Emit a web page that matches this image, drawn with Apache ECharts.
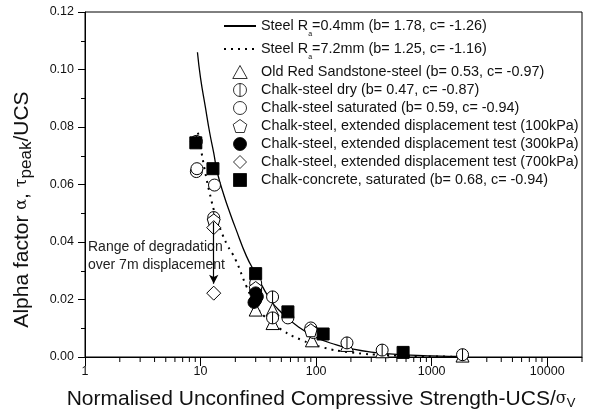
<!DOCTYPE html>
<html>
<head>
<meta charset="utf-8">
<script src="https://cdn.jsdelivr.net/npm/echarts@6/dist/echarts.min.js"></script>
<style>
  html, body { margin: 0; padding: 0; background: #fff; }
  #chart { width: 591px; height: 415px; }
</style>
</head>
<body>
<div id="chart"></div>
<script>
// fitted curves
var steel04X = [9.4, 10, 11, 12, 13, 14, 16, 18, 20, 25, 30, 40, 50, 70, 100, 150, 200, 300, 500, 1000, 2000];
var steel04Y = [0.106, 0.097, 0.087, 0.078, 0.071, 0.064, 0.056, 0.050, 0.045, 0.035, 0.029, 0.020, 0.0155, 0.0105, 0.0068, 0.0042, 0.0029, 0.0017, 0.0009, 0.0004, 0.0002];
var steel72X = [9.5, 10, 11, 12, 13.5, 15, 17, 20, 25, 30, 36, 50, 75, 110, 200, 400, 1000, 2000];
var steel72Y = [0.078, 0.073, 0.064, 0.057, 0.049, 0.044, 0.039, 0.034, 0.0245, 0.018, 0.014, 0.0095, 0.0059, 0.0035, 0.0016, 0.0007, 0.0002, 0.0001];

// measured points [UCS/sigma_v, alpha]
var oldRedSandstone = [[30, 0.0165], [42, 0.0118], [42, 0.0165], [92, 0.0058], [185, 0.0042], [373, 0.0020], [1850, 0.0005]];
var chalkDry = [[9.2, 0.075], [13, 0.0485], [30, 0.023], [42, 0.0136], [42, 0.0209], [185, 0.0049], [373, 0.0024], [1850, 0.0008]];
var chalkSaturated = [[9.2, 0.0645], [9.3, 0.0655], [13.2, 0.0598], [30, 0.0257], [57, 0.0136], [90, 0.0101], [95, 0.0085]];
var ext100 = [[13, 0.0475], [30, 0.024], [90, 0.0093]];
var ext300 = [[30, 0.0223], [30, 0.0198], [31, 0.021], [29, 0.019]];
var ext700 = [[13, 0.045], [13, 0.0222]];
var chalkConcrete = [[9.1, 0.0745], [12.8, 0.0655], [30, 0.029], [57, 0.0157], [115, 0.0080], [566, 0.0016]];

var minorTickPositions = [];
[1, 10, 100, 1000, 10000].forEach(function (d) {
  for (var k = 2; k <= 9; k++) { if (d * k <= 20000) minorTickPositions.push([d * k, 0]); }
});

var xLabels = ['1', '10', '100', '1000', '10000'];

function pairs(xs, ys) { return xs.map(function (x, i) { return [x, ys[i]]; }); }

var names = [
  'Steel Ra=0.4mm (b= 1.78, c= -1.26)',
  'Steel Ra=7.2mm (b= 1.25, c= -1.16)',
  'Old Red Sandstone-steel (b= 0.53, c= -0.97)',
  'Chalk-steel dry (b= 0.47, c= -0.87)',
  'Chalk-steel saturated (b= 0.59, c= -0.94)',
  'Chalk-steel, extended displacement test (100kPa)',
  'Chalk-steel, extended displacement test (300kPa)',
  'Chalk-steel, extended displacement test (700kPa)',
  'Chalk-concrete, saturated (b= 0.68, c= -0.94)'
];

var openStyle = { color: '#fff', borderColor: '#000', borderWidth: 1, opacity: 1 };
var filledStyle = { color: '#000', borderColor: '#000', borderWidth: 1, opacity: 1 };
var triangle = 'path://M0,-10L10,8L-10,8Z';
var circleLine = 'path://M0,-10A10,10 0 1,1 0,10A10,10 0 1,1 0,-10ZM0,-10L0,10';
var circle = 'path://M0,-10A10,10 0 1,1 0,10A10,10 0 1,1 0,-10Z';
var pentagon = 'path://M0,-10L9.5,-3.1L5.9,8.1L-5.9,8.1L-9.5,-3.1Z';
var diamond = 'path://M0,-10L10,0L0,10L-10,0Z';
var square = 'path://M-10,-10L10,-10L10,10L-10,10Z';
var symbols = [null, null, triangle, circleLine, circle, pentagon, circle, diamond, square];
var filled = [false, false, false, false, false, false, true, false, true];

function scatter(i, data, style, size) {
  return { name: names[i], type: 'scatter', data: data, symbol: symbols[i], symbolSize: size,
           itemStyle: style, z: 3 };
}

var legendData = names.map(function (n, i) {
  if (i < 2) return { name: n, itemStyle: { color: 'rgba(0,0,0,0)', borderWidth: 0, opacity: 0 } };
  return { name: n, icon: symbols[i],
           itemStyle: { color: filled[i] ? '#000' : '#fff', borderColor: '#000', borderWidth: 0.8 } };
});

var myChart = echarts.init(document.getElementById('chart'));

var option = {
  animation: false,
  textStyle: { fontFamily: 'Liberation Sans, Arial, sans-serif' },
  grid: { left: 85, right: 9, top: 12, bottom: 58, show: true, borderColor: '#000', borderWidth: 1 },
  legend: {
    data: legendData,
    orient: 'vertical',
    left: 223, top: 19, padding: 0,
    itemWidth: 32, itemHeight: 13, itemGap: 4, symbolKeepAspect: true,
    textStyle: {
      fontSize: 14.4, color: '#111',
      rich: { s: { fontSize: 7, verticalAlign: 'bottom', padding: [17, 0, 0, 0], color: '#111' } }
    },
    formatter: function (n) { return n.replace('Ra=', 'R{s|a}='); }
  },
  xAxis: {
    type: 'log', logBase: 10, min: 1, max: 20000,
    name: 'Normalised Unconfined Compressive Strength-UCS/{g|σ}{sub|V}',
    nameLocation: 'middle', nameGap: 31,
    nameTextStyle: {
      fontSize: 21, color: '#111', padding: [0, 25, 0, 0],
      rich: {
        g: { fontSize: 16, fontFamily: 'DejaVu Serif', color: '#111' },
        sub: { fontSize: 13, color: '#111', padding: [9, 0, 0, 0] }
      }
    },
    axisLine: { lineStyle: { color: '#000' } },
    axisTick: { length: 9, lineStyle: { color: '#000' } },
    axisLabel: {
      fontSize: 12.5, color: '#111', margin: 8, showMaxLabel: false,
      formatter: function (v) {
        var s = String(Math.round(v));
        return xLabels.indexOf(s) >= 0 ? s : '';
      }
    },
    splitLine: { show: false }
  },
  yAxis: {
    type: 'value', min: 0, max: 0.12, interval: 0.02,
    name: 'Alpha factor {g|α}, {g|τ}{sub|peak}/UCS',
    nameLocation: 'middle', nameGap: 50,
    nameTextStyle: {
      fontSize: 21, color: '#111', padding: [0, 50, 0, 0],
      rich: {
        g: { fontSize: 16, fontFamily: 'DejaVu Serif', color: '#111' },
        sub: { fontSize: 17, color: '#111', padding: [9, 0, 0, 0] }
      }
    },
    axisLine: { show: true, lineStyle: { color: '#000' } },
    axisTick: { show: true, length: 7, lineStyle: { color: '#000' } },
    minorTick: { show: true, splitNumber: 2, length: 4, lineStyle: { color: '#000' } },
    axisLabel: { fontSize: 12.5, color: '#111', margin: 11, formatter: function (v) { return v.toFixed(2); } },
    splitLine: { show: false }
  },
  graphic: [{
    type: 'text', left: 88, top: 238,
    style: { text: 'Range of degradation\nover 7m displacement', fontSize: 14, lineHeight: 18,
             fill: '#222', fontFamily: 'Liberation Sans, Arial, sans-serif' }
  }],
  series: [
    { name: names[0], type: 'line', data: pairs(steel04X, steel04Y), smooth: true, symbol: 'none',
      lineStyle: { color: '#000', width: 1.3 }, itemStyle: { color: '#000' }, z: 2 },
    { name: names[1], type: 'line', data: pairs(steel72X, steel72Y), smooth: true, symbol: 'none',
      lineStyle: { color: '#000', width: 2, type: [2, 5] }, itemStyle: { color: '#000' }, z: 2 },
    scatter(2, oldRedSandstone, openStyle, 13),
    scatter(3, chalkDry, openStyle, 12),
    scatter(4, chalkSaturated, openStyle, 12),
    scatter(5, ext100, openStyle, 13),
    scatter(6, ext300, filledStyle, 12),
    Object.assign(scatter(7, ext700, openStyle, 14), {
      markLine: {
        silent: true, symbol: ['none', 'arrow'], symbolSize: [7, 9],
        lineStyle: { color: '#000', width: 1.2, type: 'solid' }, label: { show: false },
        data: [[{ coord: [13, 0.047] }, { coord: [13, 0.0255] }]]
      }
    }),
    scatter(8, chalkConcrete, filledStyle, 12),
    { name: 'minor ticks', type: 'scatter', data: minorTickPositions, symbol: 'rect',
      symbolSize: [1, 5], symbolOffset: [0, 2.5], itemStyle: { color: '#000', opacity: 1 },
      silent: true, clip: false, z: 1 }
  ]
};

myChart.setOption(option);
</script>
</body>
</html>
